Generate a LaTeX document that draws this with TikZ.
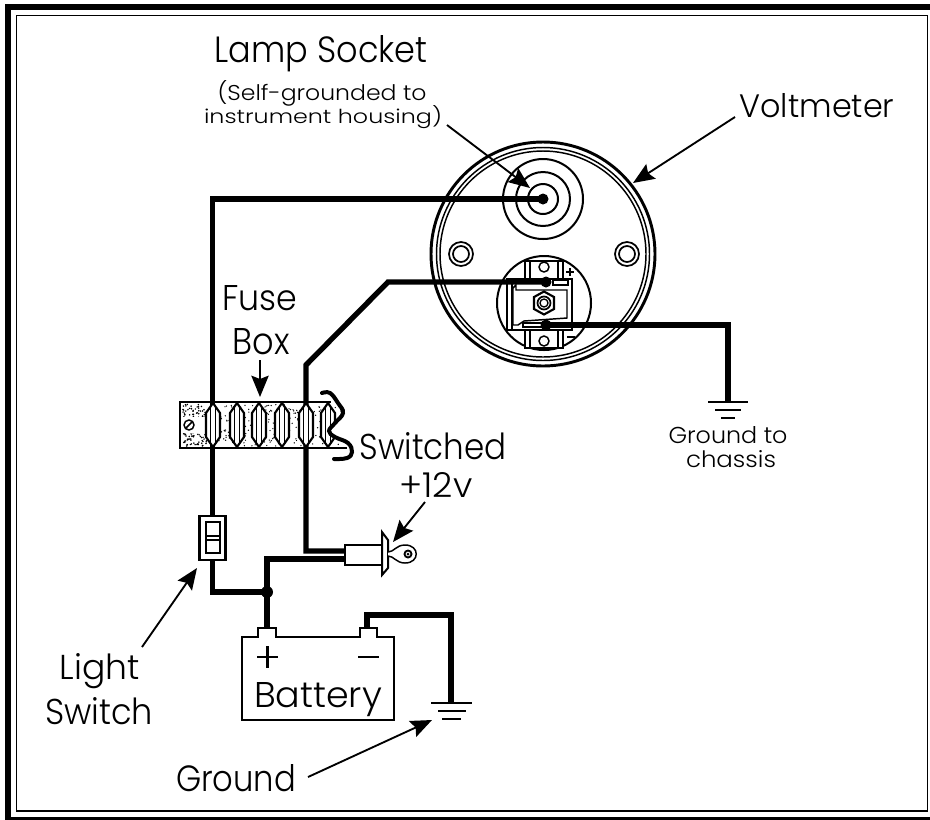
\documentclass[tikz,border=0pt]{standalone}
\usepackage{fontspec}
\usepackage{graphicx}
\setmainfont{Poppins Light}
\usetikzlibrary{arrows.meta}
\newcommand\fitw[3]{\resizebox{\dimexpr#1pt*3/4\relax}{\dimexpr#2pt*3/4\relax}{\fontsize{20}{24}\selectfont #3}}
\tikzset{
 wire/.style={line width=4pt,line join=miter,line cap=butt},
 thin part/.style={line width=1.1pt},
 med part/.style={line width=1.6pt},
 lead/.style={line width=1.4pt,-{Stealth[length=16pt,width=13pt,inset=2.5pt]}},
 dot/.style={circle,fill=black,inner sep=0pt,minimum size=#1*0.75pt},
 ring/.style={circle,draw=black,inner sep=0pt,minimum size=#1*1.5pt},
 txt/.style={inner sep=0pt,text=black,anchor=base},
 terminal/.style={draw=black,fill=white,line width=1.6pt},
}
\begin{document}
\begin{tikzpicture}[x=0.75pt,y=-0.75pt]
\useasboundingbox (0,0) rectangle (930,819);
\clip (0,0) rectangle (930,819);
\fill[white] (0,0) rectangle (930,819);
% frame
\draw[line width=4.6pt] (8,7) rectangle (945,820.5);
\draw[line width=1.2pt] (16.5,15.5) rectangle (927.5,811);

% fuse box
\pgfmathsetseed{7}
\foreach \n in {1,...,130}{
  \pgfmathsetmacro\xx{183+rnd*24}
  \pgfmathsetmacro\yy{404+rnd*42}
  \fill[black] (\xx,\yy) circle[radius=0.85];
}
\foreach \n in {1,...,240}{
  \pgfmathsetmacro\xx{205+rnd*145}
  \pgfmathsetmacro\yy{404+rnd*42}
  \fill[black] (\xx,\yy) circle[radius=0.7];
}
\fill[white] (181,417) rectangle (205,433);
\draw[thin part] (347,448) -- (180,448) -- (180,402) -- (331,402);
\node[ring=5,line width=1.1pt,fill=white] (screw) at (189,425) {};
\draw[thin part] (186,428) -- (192,422);

% gauge
\node[ring=112,line width=2.2pt,fill=white] (gauge) at (543,254) {};
\node[ring=106.5,line width=1.1pt] at (543,254) {};
\node[ring=103,line width=1.1pt] at (543,254) {};
\node[ring=12,line width=1.3pt] (holeL) at (461,254) {};
\node[ring=8,line width=1.3pt] at (461,254) {};
\node[ring=12,line width=1.3pt] (holeR) at (627,254) {};
\node[ring=8,line width=1.3pt] at (627,254) {};
\node[ring=40,line width=1.5pt] (lampA) at (543,199) {};
\node[ring=27,line width=1.5pt] (lampB) at (543,199) {};
\node[ring=15,line width=1.5pt] (lampC) at (543,199) {};
\node[ring=47,line width=1.5pt] (rear) at (544,303) {};
% terminals
\draw[terminal] (525,280) -- (525,261) -- (563,261) -- (563,280);
\draw[med part] (530,261) -- (530,280) (558,261) -- (558,280);
\node[ring=5,line width=1.1pt] (termT) at (544,267) {};
\draw[terminal] (525,328) -- (525,348) -- (563,348) -- (563,328);
\draw[med part] (530,328) -- (530,348) (558,328) -- (558,348);
\node[ring=5,line width=1.1pt] (termB) at (544,341) {};
% bracket
\draw[terminal] (507,330) -- (507,279) -- (572,279) -- (572,330) -- cycle;
\draw[med part] (512,279) -- (512,330);
\draw[thin part,fill=white] (513,288) -- (516,285) -- (516,290) -- (567,290) -- (567,318) -- (524,321) -- (518,325) -- (513,325) -- cycle;
\draw[thin part,fill=white] (553,280) rectangle (568,285);
\draw[thin part,fill=white] (523,323) rectangle (565,327);
\draw[line width=1.6pt,fill=white] (544,291.5) -- (554,297) -- (554,309) -- (544,314.5) -- (534,309) -- (534,297) -- cycle;
\node[ring=6.5,line width=1.3pt] (nut) at (544,303) {};
\node[ring=4,line width=1pt] at (544,303) {};
\draw[thin part] (566,272) -- (574,272) (570,268) -- (570,276);
\draw[thin part] (567,337) -- (575,337);

% switch and key
\node[draw=black,fill=white,line width=1.7pt,minimum width=26*0.75pt,minimum height=44*0.75pt,inner sep=0pt] (sw) at (212.5,538) {};
\coordinate (cylA) at (345,551);
\coordinate (cylB) at (345,559);
\coordinate (bendA) at (388,282);
\coordinate (bendB) at (306,365);
\coordinate (bendC) at (306,551);
\coordinate (bendD) at (267,559);
\coordinate (gndC) at (728,402);
\coordinate (gndB) at (451,703);
\coordinate (bendE) at (367,615);

% wires
\node[dot=11] (lampdot) at (543,199) {};
\node[dot=11] (plusdot) at (546,282) {};
\node[dot=11] (minusdot) at (546,325) {};
\node[dot=12] (junc) at (267,592) {};
\node[inner sep=0pt,minimum size=0pt] (batP) at (267,629) {};
\node[inner sep=0pt,minimum size=0pt] (batN) at (367,629) {};
\draw[wire] (lampdot.center) -| (sw.north);
\draw[wire] (sw.south) |- (junc.center);
\draw[wire] (plusdot.center) -- (bendA) -- (bendB) -- (bendC) -- (cylA);
\draw[wire] (minusdot.center) -| (gndC);
\draw[wire] (batP.center) -- (bendD) -- (cylB);
\draw[wire] (batN.center) |- (gndB |- bendE) -- (gndB);

% fuses
\foreach \i/\fx in {1/213,2/237,3/259,4/282,5/306,6/328}{
  \draw[med part,fill=white] (\fx,403) -- (\fx+7,413) -- (\fx+7,437) -- (\fx,447) -- (\fx-7,437) -- (\fx-7,413) -- cycle;
  \draw[thin part] (\fx-2.5,408) -- (\fx-2.5,442) (\fx+2.5,408) -- (\fx+2.5,442);
}
% torn edge
\fill[white] (330,395) -- (338,403) -- (343,413) -- (335,423) -- (328,432) -- (335,437) -- (348,443) -- (356,448) -- (360,395) -- cycle;
\draw[line width=3pt,line cap=round] plot[smooth,tension=0.7] coordinates {(322,393) (330,393) (338,403) (343,413) (335,423) (329,431) (335,437) (348,443) (352,452) (347,458) (334,459)};

% switch inner
\draw[thin part,fill=white] (206,522) rectangle (220,553);
\draw[thin part] (206,536) -- (220,536) (206,540) -- (220,540);

% key switch
\draw[line width=2pt,fill=white] (345,545) rectangle (383,565);
\draw[line width=1.5pt,fill=white] (382,532) -- (388,540) -- (388,568) -- (382,575) -- cycle;
\draw[thin part,fill=white] (388,552) .. controls (394,552) and (396,545) .. (405,545) .. controls (420,545) and (420,563) .. (405,563) .. controls (396,563) and (394,556) .. (388,556);
\node[ring=3.5,line width=1.4pt] (keyhole) at (408,554) {};
\node[dot=3] at (408,554) {};

% battery
\draw[line width=2pt,fill=white] (242,720) -- (242,637) -- (258,637) -- (258,628) -- (276,628) -- (276,637) -- (360,637) -- (360,628) -- (377,628) -- (377,637) -- (394,637) -- (394,720) -- cycle;
\draw[line width=1.6pt] (257,657) -- (278,657) (267.5,646) -- (267.5,668);
\draw[line width=1.6pt] (358,657) -- (379,657);

% grounds
\draw[med part] (708,402) -- (748,402) (715,410) -- (741,410) (721,418) -- (735,418);
\draw[med part] (431,703) -- (472,703) (438,711) -- (466,711) (442,719) -- (461,719);

% leaders
\coordinate (a1) at (447,125); \coordinate (a1t) at (530,188);
\coordinate (a2) at (735,117); \coordinate (a2t) at (633,183);
\coordinate (a3) at (260,360); \coordinate (a3t) at (260,397);
\coordinate (a4) at (425,502); \coordinate (a4t) at (393,542);
\coordinate (a5) at (142,647); \coordinate (a5t) at (197,568);
\coordinate (a6) at (308,777); \coordinate (a6t) at (432,720);
\draw[lead] (a1) -- (a1t);
\draw[lead] (a2) -- (a2t);
\draw[lead] (a3) -- (a3t);
\draw[lead] (a4) -- (a4t);
\draw[lead] (a5) -- (a5t);
\draw[lead] (a6) -- (a6t);

% labels
\node[txt] (t1) at (321,62) {\fitw{213}{27}{Lamp Socket}};
\node[txt] (t2) at (322,100) {\fitw{209}{20}{(Self-grounded to}};
\node[txt] (t3) at (323,123) {\fitw{238}{18}{instrument housing)}};
\node[txt] (t4) at (817,117) {\fitw{155}{24}{Voltmeter}};
\node[txt] (t5) at (260,310) {\fitw{75}{25}{Fuse}};
\node[txt] (t6) at (261,354) {\fitw{57}{26}{Box}};
\node[txt] (t7) at (433,459) {\fitw{147}{27}{Switched}};
\node[txt] (t8) at (436,497) {\fitw{73}{25}{+12v}};
\node[txt] (t9) at (100,679) {\fitw{80}{26}{Light}};
\node[txt] (t10) at (99,724) {\fitw{108}{27}{Switch}};
\node[txt] (t11) at (236,791) {\fitw{120}{27}{Ground}};
\node[txt] (t12) at (318,707) {\fitw{128}{25}{Battery}};
\node[txt] (t13) at (728,443) {\fitw{119}{17}{Ground to}};
\node[txt] (t14) at (731,467) {\fitw{90}{17}{chassis}};
\end{tikzpicture}
\end{document}
